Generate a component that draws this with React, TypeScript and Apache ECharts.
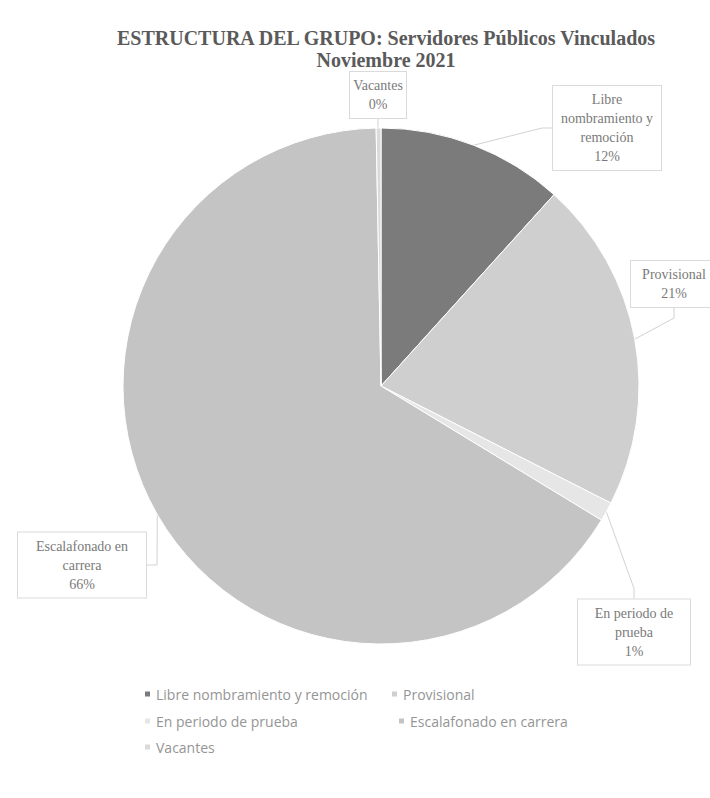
import React, { useEffect, useRef } from "react";
import * as echarts from "echarts";

const categories = [
  "Libre nombramiento y remoción",
  "Provisional",
  "En periodo de prueba",
  "Escalafonado en carrera",
  "Vacantes",
];
const labelNames = [
  "Libre\nnombramiento y\nremoción",
  "Provisional",
  "En periodo de\nprueba",
  "Escalafonado en\ncarrera",
  "Vacantes",
];
const values = [11.7, 20.8, 1.2, 66.0, 0.3];
const colors = ["#7b7b7b", "#cfcfcf", "#e6e6e6", "#c4c4c4", "#dadada"];
const titleLines = ["ESTRUCTURA DEL GRUPO: Servidores Públicos Vinculados", "Noviembre 2021"];

const labelPos = [
  [607, 128],
  [674, 284],
  [634, 632],
  [82, 565],
  [378, 95],
];
const labelWidths = [96, 74, 100, 116, 44];
const legendPos = [
  [138, 682],
  [385, 682],
  [138, 709],
  [392, 709],
  [138, 735],
];

export default function App() {
  const ref = useRef<HTMLDivElement>(null);
  useEffect(() => {
    if (!ref.current) return;
    const chart = echarts.init(ref.current, undefined, { renderer: "svg" });
    chart.setOption({
      animation: false,
      backgroundColor: "#ffffff",
      title: {
        text: titleLines.join("\n"),
        left: 381,
        top: 22,
        textAlign: "center",
        textStyle: {
          fontFamily: "Liberation Serif",
          fontWeight: "bold",
          fontSize: 20,
          color: "#5a5a5a",
          lineHeight: 22,
        },
      },
      legend: categories.map((c, i) => ({
        data: [c],
        left: legendPos[i][0],
        top: legendPos[i][1],
        orient: "horizontal",
        icon: "rect",
        itemWidth: 7,
        itemHeight: 7,
        textStyle: {
          fontFamily: "Open Sans",
          fontSize: 14,
          color: "#959595",
        },
        selectedMode: false,
      })),
      series: [
        {
          type: "pie",
          center: [381, 386],
          radius: 258,
          startAngle: 90,
          clockwise: true,
          percentPrecision: 0,
          color: colors,
          itemStyle: { borderColor: "#ffffff", borderWidth: 1 },
          data: categories.map((c, i) => ({
            name: c,
            value: values[i],
            label: { width: labelWidths[i] },
          })),
          label: {
            show: true,
            position: "outside",
            overflow: "none",
            formatter: (p: any) => `${labelNames[p.dataIndex]}\n${p.percent}%`,
            fontFamily: "Liberation Serif",
            fontSize: 14,
            lineHeight: 19,
            color: "#7a7a7a",
            align: "center",
            backgroundColor: "#ffffff",
            borderColor: "#dadada",
            borderWidth: 1,
            padding: [4, 6],
          },
          labelLine: {
            show: true,
            length: 10,
            length2: 10,
            lineStyle: { color: "#d2d2d2", width: 1 },
          },
          labelLayout: (p: any) => ({
            x: labelPos[p.dataIndex][0],
            y: labelPos[p.dataIndex][1],
            align: "center",
            verticalAlign: "middle",
          }),
        },
      ],
    });
    return () => chart.dispose();
  }, []);
  return (
    <div
      ref={ref}
      style={{ position: "fixed", left: 0, top: 0, width: 710, height: 798 }}
    />
  );
}
